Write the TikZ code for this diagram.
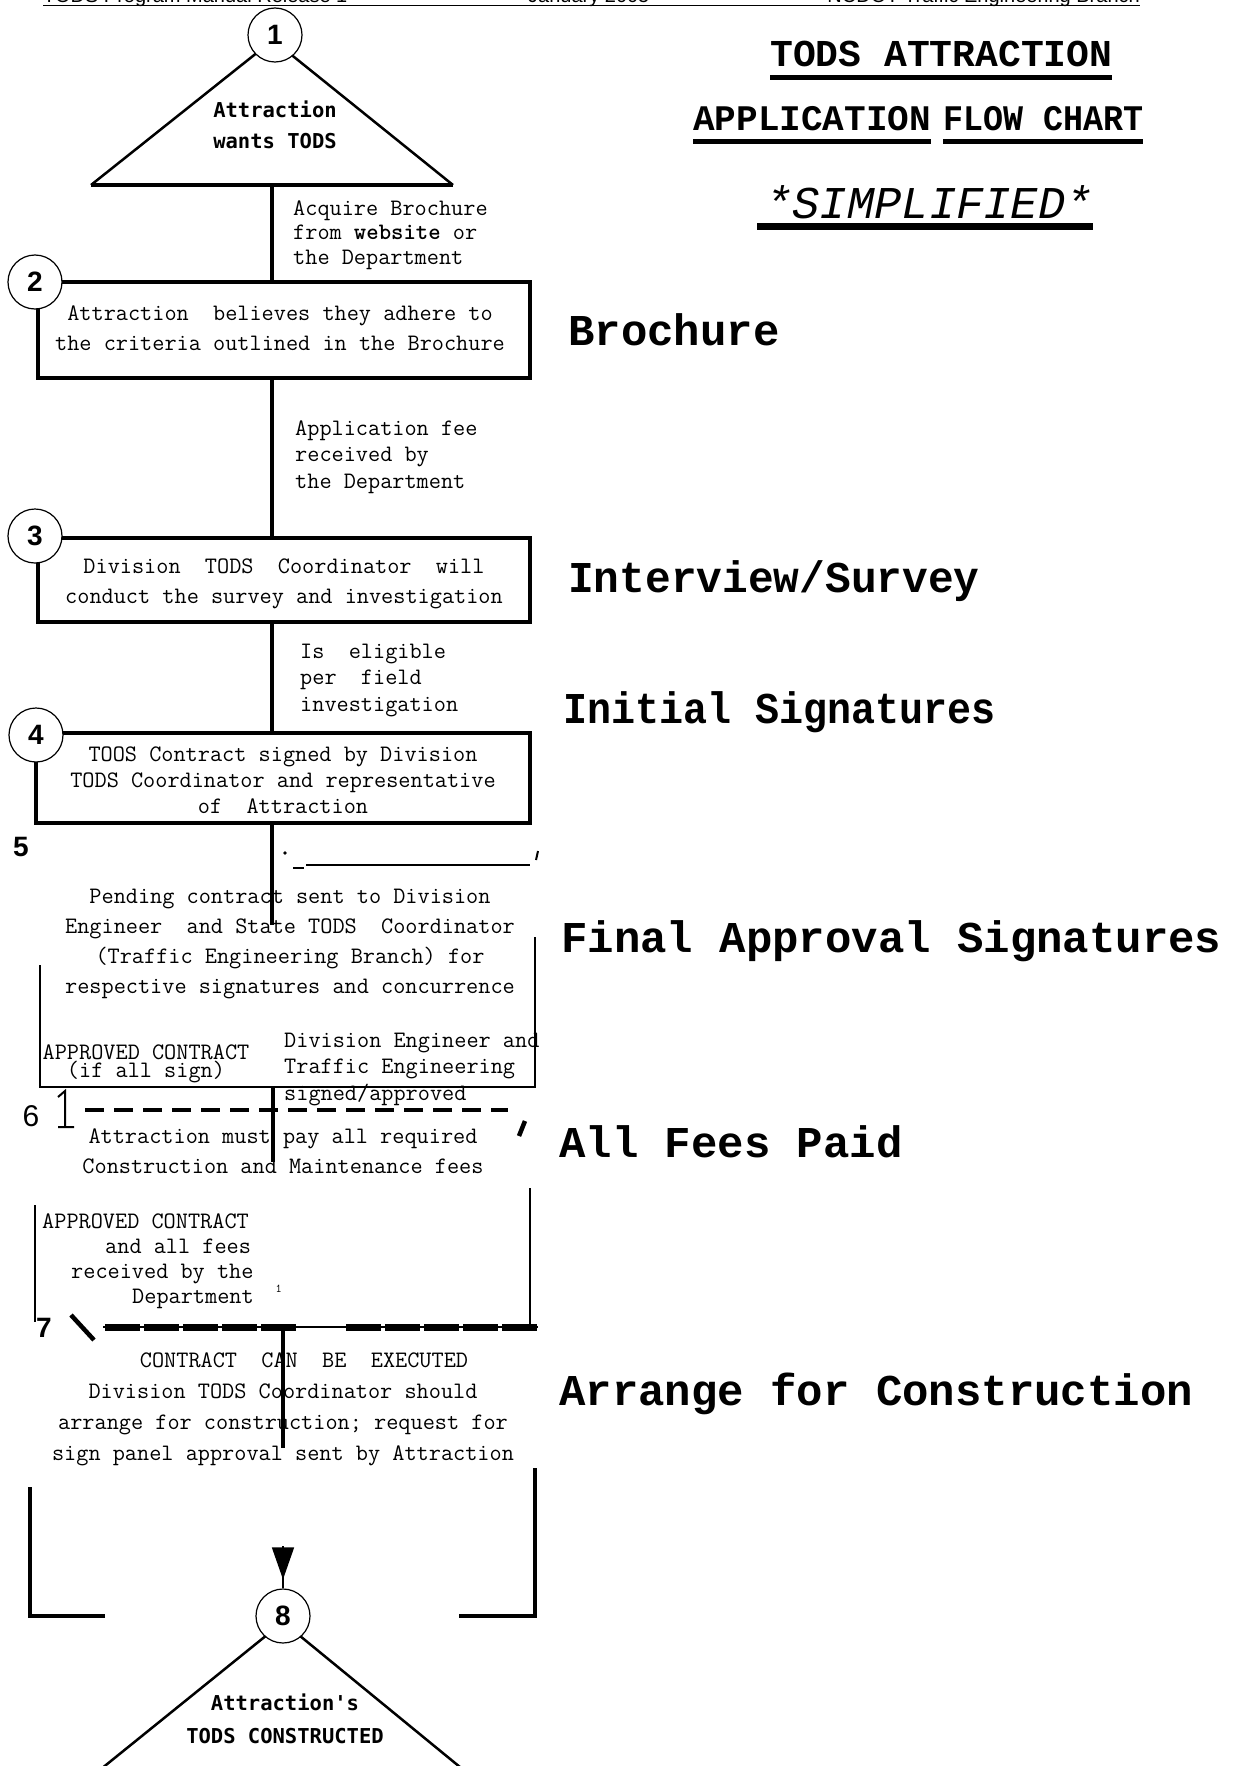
\documentclass[tikz,border=0pt]{standalone}
\usepackage{fontspec}
\usepackage{graphicx}
\usetikzlibrary{arrows.meta}
\newcommand\bodyfont{\ttfamily}
\newfontfamily\headfont{Liberation Mono}
\newfontfamily\trifont{DejaVu Sans Mono}
\newfontfamily\numfont{Liberation Sans}
\tikzset{
    link/.style={line width=4.5pt},
    boxframe/.style={draw, line width=4pt, inner sep=0pt},
    numcirc/.style={circle, draw, line width=1.2pt, fill=white, minimum size=54pt, inner sep=0pt,
        font=\numfont\bfseries\fontsize{28}{28}\selectfont},
    body/.style={font=\bodyfont\fontsize{23.6}{30}\selectfont, inner sep=0pt, align=center, anchor=base},
    note/.style={font=\bodyfont\fontsize{23.6}{26.5}\selectfont, inner sep=0pt, align=left, anchor=base west},
    heading/.style={font=\headfont\bfseries\fontsize{44}{44}\selectfont, inner sep=0pt, anchor=base west},
    tritext/.style={font=\trifont\bfseries\fontsize{20.5}{30}\selectfont, inner sep=0pt, align=center, anchor=base},
    rule/.style={line width=5pt}
}
\begin{document}
\begin{tikzpicture}[x=1pt, y=-1pt]
    \useasboundingbox (0,0) rectangle (1233,1766);
    % page header, cut by the top edge
    \node[font=\numfont\fontsize{20}{20}\selectfont, anchor=base west, inner sep=0pt] (hdl) at (43,3) {TODS Program Manual Release 1};
    \node[font=\numfont\fontsize{20}{20}\selectfont, anchor=base west, inner sep=0pt] (hdm) at (528,3) {January 2005};
    \node[font=\numfont\fontsize{20}{20}\selectfont, anchor=base east, inner sep=0pt] (hdr) at (1140,3) {NCDOT Traffic Engineering Branch};
    \draw[line width=1pt] (hdl.base west) ++(0,2.5) -- ++(1097,0);

    % titles
    \node[heading, font=\headfont\bfseries\fontsize{38}{38}\selectfont] (ttl1) at (770,67) {TODS ATTRACTION};
    \node[heading, font=\headfont\bfseries\fontsize{36}{36}\selectfont] (ttl2) at (693,131) {APPLICATION};
    \node[heading, font=\headfont\bfseries\fontsize{36}{36}\selectfont] (ttl3) at (943,131) {\scalebox{0.926}[1]{FLOW CHART}};
    \node[heading, font=\headfont\itshape\fontsize{45.5}{46}\selectfont] (ttl4) at (765,218) {*SIMPLIFIED*};
    \draw[rule] ([yshift=-10.5pt]ttl1.base west) -- ([yshift=-10.5pt]ttl1.base east);
    \draw[rule] ([yshift=-10.5pt]ttl2.base west) -- ([yshift=-10.5pt]ttl2.base east);
    \draw[rule] ([yshift=-10.5pt]ttl3.base west) -- ([yshift=-10.5pt]ttl3.base east);
    \draw[line width=6.5pt] ([xshift=-8pt, yshift=-8.5pt]ttl4.base west) -- ([yshift=-8.5pt]ttl4.base east);

    % 1
    \coordinate (t1apex) at (273,40);
    \coordinate (t1l) at (91,185);
    \coordinate (t1r) at (453,185);
    \coordinate (t1b) at (272,185);
    \draw[line width=2.5pt] (t1l) -- (t1apex) -- (t1r);
    \draw[line width=4pt] (t1l) -- (t1r);
    \node[numcirc] (n1) at (275,35) {1};
    \node[tritext] (t1txt) at (275,148) {Attraction\\wants TODS};

    % 2 - 4
    \node[boxframe, minimum width=492pt, minimum height=96pt] (b2) at (284,330) {};
    \node[boxframe, minimum width=492pt, minimum height=84pt] (b3) at (284,580) {};
    \node[boxframe, minimum width=494pt, minimum height=90pt] (b4) at (283,778) {};
    \node[numcirc] (n2) at (35,282) {2};
    \node[numcirc] (n3) at (35,536) {3};
    \node[numcirc] (n4) at (36,735) {4};
    \draw[link] (t1b) -- (t1b |- b2.north);
    \draw[link] (t1b |- b2.south) -- (t1b |- b3.north);
    \draw[link] (t1b |- b3.south) -- (t1b |- b4.north);
    \node[note, font=\bodyfont\fontsize{23.6}{24.5}\selectfont] (la) at (293,264) {Acquire Brochure\\from \textbf{website} or\\the Department};
    \node[body] (t2) at (280,350) {Attraction~~believes they adhere to\\the criteria outlined in the Brochure};
    \node[note] (lb) at (295,488) {Application fee\\received by\\the Department};
    \node[body] (t3) at (284,603) {Division~~TODS~~Coordinator~~will\\conduct the survey and investigation};
    \node[note] (lc) at (300,711) {Is~~eligible\\per~~field\\investigation};
    \node[body, font=\bodyfont\fontsize{23.6}{26}\selectfont] (t4) at (283,813) {TOOS Contract signed by Division\\TODS Coordinator and representative\\of~~Attraction};

    % 5
    \node[font=\numfont\bfseries\fontsize{28}{28}\selectfont, inner sep=0pt] (lab5) at (21,847) {5};
    \coordinate (c5) at (272,925);
    \draw[link] (t1b |- b4.south) -- (c5);
    \fill (285,853) circle (1.8pt);
    \draw[line width=1.5pt] (293,868) -- (304,868);
    \draw[line width=1.5pt] (306,865) -- (530,865);
    \draw[line width=2pt] (538,851) -- (536,860);
    \coordinate (b5bl) at (40,1087);
    \coordinate (b5br) at (535,1087);
    \draw[line width=2.5pt] (40,965) -- (b5bl) -- (b5br) -- (535,937);
    \node[body] (t5) at (290,993) {Pending contract sent to Division\\Engineer~~and State TODS~~Coordinator\\(Traffic Engineering Branch) for\\respective signatures and concurrence};
    \node[body, font=\bodyfont\fontsize{23.6}{15}\selectfont] (ap1) at (146,1077) {APPROVED CONTRACT\\(if all sign)};
    \node[note] (sg) at (284,1100) {Division Engineer and\\Traffic Engineering\\signed/approved};

    % 6
    \coordinate (c6a) at (273,1087);
    \coordinate (c6b) at (273,1162);
    \draw[link] (c6a) -- (c6b);
    \node[font=\numfont\fontsize{30}{30}\selectfont, inner sep=0pt] (lab6) at (31,1116) {6};
    \draw[line width=2pt] (58,1097) -- (65,1091) -- (65,1127) (58,1127) -- (74,1127);
    \draw[line width=4.5pt, dash pattern=on 19pt off 10pt] (85,1110) -- (508,1110);
    \draw[line width=4.5pt] (525,1121) -- (519,1136);
    \draw[line width=2.5pt] (35,1205) -- (35,1322);
    \draw[line width=2.5pt] (530,1188) -- (530,1325);
    \node[body] (t6) at (283,1173) {Attraction must pay all required\\Construction and Maintenance fees};
    \node[note, font=\bodyfont\fontsize{23.6}{25}\selectfont] (ap2) at (42,1303) {APPROVED CONTRACT\\\hspace*{63pt}and all fees\\\hspace*{29pt}received by the\\\hspace*{90pt}Department\hspace{22pt}\raisebox{11pt}{\fontsize{12}{12}\selectfont 1}};

    % 7
    \node[font=\numfont\bfseries\fontsize{28}{28}\selectfont, inner sep=0pt] (lab7) at (44,1328) {7};
    \draw[line width=4.5pt] (71,1315) -- (94,1340);
    \draw[line width=2pt] (103,1327) -- (538,1327);
    \draw[line width=7pt, dash pattern=on 35pt off 4pt] (105,1327) -- (297,1327);
    \draw[line width=7pt, dash pattern=on 35pt off 4pt] (346,1327) -- (538,1327);
    \coordinate (c7a) at (283,1327);
    \coordinate (c7b) at (283,1448);
    \draw[link] (c7a) -- (c7b);
    \node[body, font=\bodyfont\fontsize{23.6}{31}\selectfont] (t7) at (283,1460) {\hspace*{42pt}CONTRACT~~CAN~~BE~~EXECUTED\\Division TODS Coordinator should\\arrange for construction; request for\\sign panel approval sent by Attraction};
    \draw[line width=4.5pt] (105,1616) -- (30,1616) -- (30,1487);
    \draw[line width=4.5pt] (459,1616) -- (535,1616) -- (535,1468);

    % 8
    \draw[line width=2.5pt] (75,1790) -- (283,1622) -- (488,1790);
    \node[numcirc] (n8) at (283,1616) {8};
    \coordinate (arrtop) at (283,1546);
    \draw[line width=1.5pt] (arrtop) -- (n8.north);
    \draw[-{Triangle[width=22pt,length=32pt]}, line width=1.5pt, shorten >=9pt] (arrtop) -- (n8.north);
    \node[tritext, font=\trifont\bfseries\fontsize{20.5}{33}\selectfont] (t8txt) at (285,1743) {Attraction's\\TODS CONSTRUCTED};

    % stage names
    \node[heading] (h1) at (568,345) {Brochure};
    \node[heading] (h2) at (568,592) {\scalebox{0.974}[1]{Interview/Survey}};
    \node[heading] (h3) at (563,723) {\scalebox{0.91}[1]{Initial Signatures}};
    \node[heading] (h4) at (561,952) {Final Approval Signatures};
    \node[heading] (h5) at (559,1157) {All Fees Paid};
    \node[heading] (h6) at (559,1405) {Arrange for Construction};
\end{tikzpicture}
\end{document}
